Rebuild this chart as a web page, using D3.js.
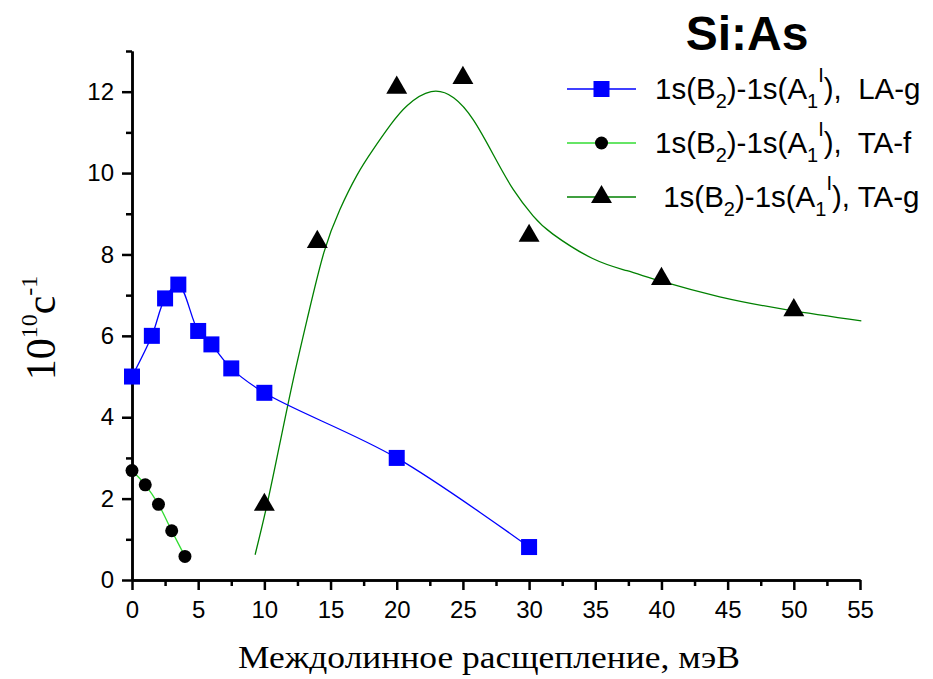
<!DOCTYPE html>
<html>
<head>
<meta charset="utf-8">
<script src="https://cdn.jsdelivr.net/npm/d3@7"></script>
<style>
  body { margin: 0; background: #fff; }
  text { white-space: pre; }
</style>
</head>
<body>
<div class="chart-wrapper"></div>
<script>
// LA-g (blue squares)
const laX = [0, 1.5, 2.5, 3.5, 5, 6, 7.5, 10, 20, 30];
const laY = [5.0, 6.0, 6.92, 7.26, 6.12, 5.79, 5.2, 4.6, 3.0, 0.81];
// TA-f (black circles)
const tafX = [0, 1, 2, 3, 4];
const tafY = [2.69, 2.34, 1.86, 1.21, 0.58];
// TA-g (black triangles)
const tagX = [10, 14, 20, 25, 30, 40, 50];
const tagY = [1.85, 8.31, 12.1, 12.34, 8.46, 7.4, 6.63];
// fitted curve through TA-g
const fitX = [9.3, 10.2, 11.2, 12.2, 13.3, 14.5, 15.7, 17.0, 18.2, 19.5, 20.8, 22.6, 24.3, 25.8, 27.3, 28.8, 30.3, 31.8, 34.8, 37.4, 40.1, 44.4, 49.5, 55.1];
const fitY = [0.62, 1.85, 3.4, 4.95, 6.5, 8.05, 9.1, 9.95, 10.57, 11.17, 11.66, 12.0, 11.85, 11.3, 10.45, 9.6, 8.95, 8.5, 7.9, 7.6, 7.33, 6.96, 6.64, 6.37];

const xTicks = [0, 5, 10, 15, 20, 25, 30, 35, 40, 45, 50, 55];
const yTicks = [0, 2, 4, 6, 8, 10, 12];

const W = 933, H = 679;
const margin = { top: 51, right: 73, bottom: 99, left: 132 };

const svg = d3.select('.chart-wrapper')
  .append('svg')
  .attr('width', W)
  .attr('height', H);

const x = d3.scaleLinear().domain([0, 55]).range([margin.left, W - margin.right]);
const y = d3.scaleLinear().domain([0, 13]).range([H - margin.bottom, margin.top]);

const zip = (xs, ys) => xs.map((v, i) => [v, ys[i]]);

// axes
const xAxis = svg.append('g')
  .attr('transform', 'translate(0,' + y(0) + ')')
  .call(d3.axisBottom(x).tickValues(xTicks).tickSize(10).tickPadding(11).tickSizeOuter(0));
xAxis.append('g')
  .call(d3.axisBottom(x).tickValues(d3.range(2.5, 55, 5)).tickSize(6).tickFormat('').tickSizeOuter(0));

const yAxis = svg.append('g')
  .attr('transform', 'translate(' + x(0) + ',0)')
  .call(d3.axisLeft(y).tickValues(yTicks).tickSize(10).tickPadding(8).tickSizeOuter(0));
yAxis.append('g')
  .call(d3.axisLeft(y).tickValues(d3.range(1, 14, 2)).tickSize(6).tickFormat('').tickSizeOuter(0));

svg.selectAll('.domain, .tick line')
  .attr('stroke', '#000')
  .attr('stroke-width', 2.5);
svg.selectAll('.tick text')
  .attr('fill', '#000')
  .style('font-family', 'Arial, "Liberation Sans", sans-serif')
  .style('font-size', '24px');

// axis titles
svg.append('text')
  .attr('x', 489)
  .attr('y', 668)
  .attr('text-anchor', 'middle')
  .attr('textLength', 502)
  .attr('lengthAdjust', 'spacingAndGlyphs')
  .style('font-family', '"Times New Roman", "Liberation Serif", serif')
  .style('font-size', '32px')
  .text('Междолинное расщепление, мэВ');

const yl = svg.append('text')
  .attr('transform', 'translate(55,328) rotate(-90)')
  .attr('text-anchor', 'middle')
  .style('font-family', '"Times New Roman", "Liberation Serif", serif')
  .style('font-size', '42px');
yl.append('tspan').text('10');
yl.append('tspan').attr('dy', -18).style('font-size', '24px').text('10');
yl.append('tspan').attr('dy', 18).text('c');
yl.append('tspan').attr('dy', -18).style('font-size', '24px').text('-1');

// lines
const line = d3.line()
  .x(d => x(d[0]))
  .y(d => y(d[1]))
  .curve(d3.curveCatmullRom.alpha(0.5));

svg.append('path')
  .datum(zip(fitX, fitY))
  .attr('d', line.curve(d3.curveNatural))
  .attr('fill', 'none')
  .attr('stroke', '#008000')
  .attr('stroke-width', 1.3);

line.curve(d3.curveCatmullRom.alpha(0.5));

svg.append('path')
  .datum(zip(laX, laY))
  .attr('d', line)
  .attr('fill', 'none')
  .attr('stroke', '#0000ff')
  .attr('stroke-width', 1.3);

svg.append('path')
  .datum(zip(tafX, tafY))
  .attr('d', line)
  .attr('fill', 'none')
  .attr('stroke', '#33dd33')
  .attr('stroke-width', 1.3);

// markers
const sq = 16, circR = 6.5;
const tri = d3.symbol().type(d3.symbolTriangle).size(190);

svg.selectAll('rect.la')
  .data(zip(laX, laY))
  .enter()
  .append('rect')
  .attr('class', 'la')
  .attr('x', d => x(d[0]) - sq / 2)
  .attr('y', d => y(d[1]) - sq / 2)
  .attr('width', sq)
  .attr('height', sq)
  .attr('fill', '#0000ff');

svg.selectAll('circle.taf')
  .data(zip(tafX, tafY))
  .enter()
  .append('circle')
  .attr('class', 'taf')
  .attr('cx', d => x(d[0]))
  .attr('cy', d => y(d[1]))
  .attr('r', circR)
  .attr('fill', '#000');

svg.selectAll('path.tag')
  .data(zip(tagX, tagY))
  .enter()
  .append('path')
  .attr('class', 'tag')
  .attr('d', tri)
  .attr('transform', d => 'translate(' + x(d[0]) + ',' + y(d[1]) + ')')
  .attr('fill', '#000');

// title
svg.append('text')
  .attr('x', 747)
  .attr('y', 50)
  .attr('text-anchor', 'middle')
  .style('font-family', 'Arial, "Liberation Sans", sans-serif')
  .style('font-size', '48px')
  .style('font-weight', 'bold')
  .text('Si:As');

// legend
const legend = [
  { color: '#0000ff', mark: 'square', tail: '),  LA-g', lead: '' },
  { color: '#33dd33', mark: 'circle', tail: '),  TA-f', lead: '' },
  { color: '#008000', mark: 'triangle', tail: '), TA-g', lead: ' ' }
];
const lg = svg.append('g').attr('transform', 'translate(567,89)');
legend.forEach((d, i) => {
  const row = lg.append('g').attr('transform', 'translate(0,' + i * 54 + ')');
  row.append('line')
    .attr('x1', 0).attr('x2', 69)
    .attr('stroke', d.color)
    .attr('stroke-width', 1.3);
  if (d.mark === 'square') {
    row.append('rect').attr('x', 34.5 - sq / 2).attr('y', -sq / 2)
      .attr('width', sq).attr('height', sq).attr('fill', '#0000ff');
  } else if (d.mark === 'circle') {
    row.append('circle').attr('cx', 34.5).attr('r', circR).attr('fill', '#000');
  } else {
    row.append('path').attr('d', tri).attr('transform', 'translate(34.5,0)').attr('fill', '#000');
  }
  const t = row.append('text')
    .attr('x', 88)
    .attr('y', 10)
    .style('font-family', 'Arial, "Liberation Sans", sans-serif')
    .style('font-size', '29.5px');
  t.append('tspan').text(d.lead + '1s(B');
  t.append('tspan').attr('dy', 9).style('font-size', '20px').text('2');
  t.append('tspan').attr('dy', -9).text(')-1s(A');
  t.append('tspan').attr('dy', 9).style('font-size', '20px').text('1');
  t.append('tspan').attr('dy', -26).style('font-size', '20px').text('I');
  t.append('tspan').attr('dy', 17).text(d.tail);
});
</script>
</body>
</html>
